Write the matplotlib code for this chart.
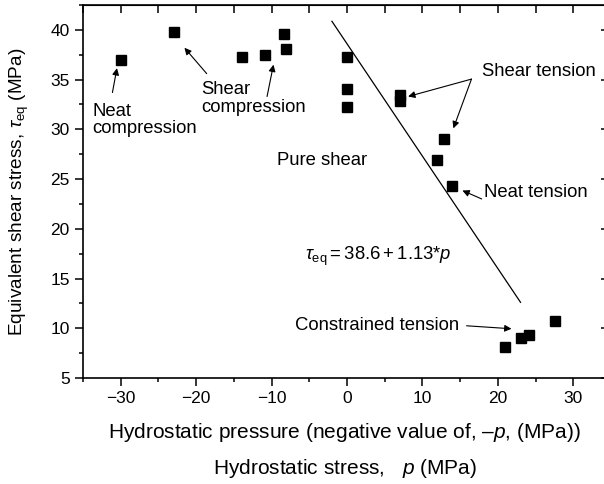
import numpy as np
import matplotlib
matplotlib.use("Agg")
import matplotlib.pyplot as plt
from matplotlib.ticker import MultipleLocator

plt.rcParams['font.family'] = ['Liberation Sans', 'DejaVu Sans']
plt.rcParams['mathtext.fontset'] = 'custom'
plt.rcParams['mathtext.rm'] = 'Liberation Sans'
plt.rcParams['mathtext.it'] = 'Liberation Sans:italic'

# measured points: hydrostatic pressure (-p) vs equivalent shear stress
p_neg = [-30.0, -23.0, -13.9, -10.9, -8.4, -8.1,
         0.0, 0.0, 0.0, 7.0, 7.0, 12.8, 11.9, 13.9,
         20.9, 23.0, 24.1, 27.6]
tau_eq = [37.0, 39.8, 37.3, 37.5, 39.6, 38.1,
          37.3, 34.1, 32.2, 33.5, 32.8, 29.0, 26.9, 24.3,
          8.1, 9.0, 9.3, 10.7]

# fitted line tau = 38.6 + 1.13 p  (x axis is -p)
fit_a = 38.6
fit_b = 1.13
fit_x = np.array([-2.0, 23.0])

fig = plt.figure(figsize=(6.04, 4.84), dpi=100)
ax = fig.add_axes([83 / 604, 106 / 484, 522 / 604, 373 / 484])

ax.plot(p_neg, tau_eq, 's', color='black', markersize=6.5)
ax.plot(fit_x, fit_a - fit_b * fit_x, color='black', lw=0.9)

ax.set_xlim(-35, 34.2)
ax.set_ylim(5, 42.5)
ax.xaxis.set_major_locator(MultipleLocator(10))
ax.xaxis.set_minor_locator(MultipleLocator(5))
ax.yaxis.set_major_locator(MultipleLocator(5))
ax.yaxis.set_minor_locator(MultipleLocator(2.5))
ax.tick_params(which='major', direction='out', length=6, width=1.1, labelsize=12.5)
ax.tick_params(which='minor', direction='out', length=3, width=1.1)
for s in ax.spines.values():
    s.set_linewidth(1.2)

top = ax.secondary_xaxis('top')
top.xaxis.set_major_locator(MultipleLocator(5))
top.tick_params(direction='in', length=6, width=1.1, labeltop=False)
right = ax.secondary_yaxis('right')
right.yaxis.set_major_locator(MultipleLocator(5))
right.tick_params(direction='in', length=3, width=1.1, labelright=False)

arrow = dict(arrowstyle='-|>', color='black', lw=0.8, mutation_scale=10,
             shrinkA=0, shrinkB=0)
fs = 13.3

ax.text(-33.8, 30.95, 'Neat\ncompression', fontsize=fs, va='center', ha='left', linespacing=1.05)
ax.annotate('', xy=(-30.5, 36.15), xytext=(-31.1, 33.7), arrowprops=arrow)

ax.text(-19.3, 33.1, 'Shear\ncompression', fontsize=fs, va='center', ha='left', linespacing=1.05)
ax.annotate('', xy=(-21.55, 38.2), xytext=(-18.6, 35.6), arrowprops=arrow)
ax.annotate('', xy=(-9.75, 36.5), xytext=(-10.6, 33.3), arrowprops=arrow)

ax.text(-9.3, 26.9, 'Pure shear', fontsize=fs, va='center', ha='left')

ax.text(17.9, 35.8, 'Shear tension', fontsize=fs, va='center', ha='left')
ax.annotate('', xy=(8.1, 33.3), xytext=(16.5, 35.05), arrowprops=arrow)
ax.annotate('', xy=(14.1, 30.1), xytext=(16.5, 35.05), arrowprops=arrow)

ax.text(18.2, 23.6, 'Neat tension', fontsize=fs, va='center', ha='left')
ax.annotate('', xy=(15.3, 23.85), xytext=(17.85, 23.0), arrowprops=arrow)

ax.text(-5.6, 17.2, r'$\tau_{\rm eq} = 38.6 + 1.13{*}p$', fontsize=fs, va='center', ha='left')

ax.text(14.9, 10.25, 'Constrained tension', fontsize=fs, va='center', ha='right')
ax.annotate('', xy=(21.8, 9.95), xytext=(15.85, 10.25), arrowprops=arrow)

fig.text(0.0315, 0.604, r'Equivalent shear stress, $\tau_{\rm eq}$ (MPa)', rotation=90,
         fontsize=13.7, ha='center', va='center')
fig.text(0.571, 1 - 433 / 484, r'Hydrostatic pressure (negative value of, –$p$, (MPa))',
         fontsize=15, ha='center', va='center')
fig.text(0.571, 1 - 468 / 484, r'Hydrostatic stress,   $p$ (MPa)',
         fontsize=15, ha='center', va='center')

fig.savefig('out.png', dpi=100)
